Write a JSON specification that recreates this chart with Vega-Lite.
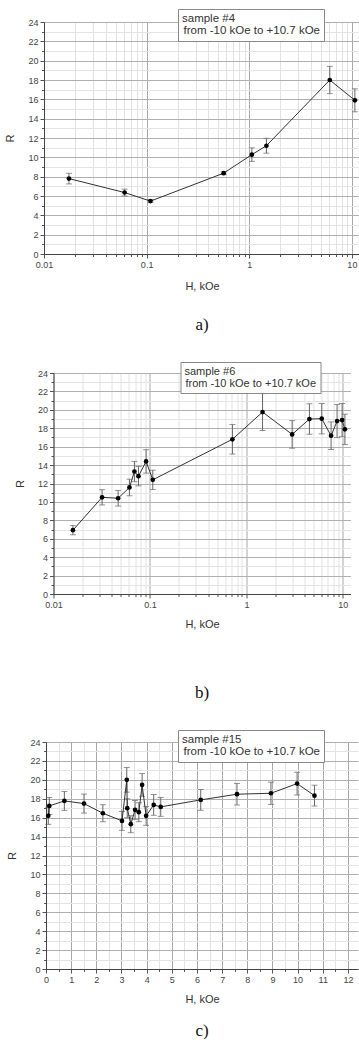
{
  "$schema": "https://vega.github.io/schema/vega-lite/v6.json",
  "padding": {"left": 4, "top": 8, "right": 0, "bottom": 0},
  "background": "white",
  "config": {
    "view": {"stroke": null},
    "font": "Liberation Sans",
    "axis": {
      "labelFont": "Liberation Sans", "labelFontSize": 9, "labelColor": "#444",
      "titleFont": "Liberation Sans", "titleFontSize": 11, "titleFontWeight": "normal", "titleColor": "#333",
      "domainColor": "#444", "tickColor": "#555", "labelFlush": false, "labelOverlap": false, "grid": true
    },
    "title": {"font": "Liberation Serif", "fontSize": 17, "fontWeight": "normal", "color": "#111", "orient": "bottom"},
    "legend": {
      "orient": "none", "strokeColor": "#888", "fillColor": "#fff", "padding": 4,
      "titleFont": "Liberation Sans", "titleFontSize": 11.5, "titleFontWeight": "normal", "titleColor": "#333",
      "labelFont": "Liberation Sans", "labelFontSize": 11.5, "labelColor": "#333",
      "symbolOpacity": 0, "symbolSize": 0, "symbolStrokeWidth": 0, "labelOffset": -10, "titlePadding": 1, "labelLimit": 400
    }
  },
  "datasets": {
    "a": [
      {"H": 0.0175, "R": 7.8, "err": 0.55},
      {"H": 0.061, "R": 6.36, "err": 0.35},
      {"H": 0.109, "R": 5.47, "err": 0.15},
      {"H": 0.563, "R": 8.36, "err": 0.15},
      {"H": 1.06, "R": 10.28, "err": 0.7},
      {"H": 1.47, "R": 11.2, "err": 0.77},
      {"H": 6.09, "R": 18.0, "err": 1.41},
      {"H": 10.7, "R": 15.9, "err": 1.19}
    ],
    "b": [
      {"H": 0.0159, "R": 6.93, "err": 0.5},
      {"H": 0.0319, "R": 10.5, "err": 0.83},
      {"H": 0.0468, "R": 10.4, "err": 0.85},
      {"H": 0.0613, "R": 11.57, "err": 0.9},
      {"H": 0.069, "R": 13.3, "err": 1.1},
      {"H": 0.076, "R": 12.8, "err": 1.05},
      {"H": 0.0912, "R": 14.4, "err": 1.27},
      {"H": 0.107, "R": 12.4, "err": 1.05},
      {"H": 0.716, "R": 16.8, "err": 1.6},
      {"H": 1.47, "R": 19.76, "err": 2.0},
      {"H": 2.98, "R": 17.33, "err": 1.5},
      {"H": 4.5, "R": 19.0, "err": 1.65},
      {"H": 6.04, "R": 19.04, "err": 1.65},
      {"H": 7.55, "R": 17.19, "err": 1.5},
      {"H": 8.71, "R": 18.78, "err": 1.8},
      {"H": 9.82, "R": 18.89, "err": 1.8},
      {"H": 10.5, "R": 17.88, "err": 1.65}
    ],
    "c": [
      {"H": 0.09, "R": 16.19, "err": 0.9},
      {"H": 0.13, "R": 17.24, "err": 0.9},
      {"H": 0.73, "R": 17.77, "err": 1.0},
      {"H": 1.51, "R": 17.49, "err": 1.0},
      {"H": 2.26, "R": 16.47, "err": 0.9},
      {"H": 3.02, "R": 15.66, "err": 1.0},
      {"H": 3.21, "R": 20.0, "err": 1.3},
      {"H": 3.23, "R": 17.0, "err": 1.0},
      {"H": 3.37, "R": 15.31, "err": 0.9},
      {"H": 3.54, "R": 16.82, "err": 1.0},
      {"H": 3.69, "R": 16.58, "err": 1.0},
      {"H": 3.82, "R": 19.46, "err": 1.2},
      {"H": 3.98, "R": 16.19, "err": 1.0},
      {"H": 4.28, "R": 17.35, "err": 1.1},
      {"H": 4.56, "R": 17.14, "err": 1.0},
      {"H": 6.15, "R": 17.88, "err": 1.1},
      {"H": 7.59, "R": 18.48, "err": 1.14},
      {"H": 8.94, "R": 18.58, "err": 1.18},
      {"H": 9.98, "R": 19.6, "err": 1.2},
      {"H": 10.67, "R": 18.33, "err": 1.1}
    ]
  },
  "align": {"row": "none", "column": "all"},
  "center": true,
  "spacing": 28,
  "resolve": {"scale": {"x": "independent", "y": "independent", "color": "independent"}, "legend": {"color": "independent"}},
  "vconcat": [
    {
      "width": 316, "height": 232,
      "title": {"text": "a)", "offset": 26},
      "data": {"name": "a"},
      "encoding": {
        "x": {"field": "H", "type": "quantitative", "title": "H, kOe",
          "scale": {"type": "log", "domain": [0.01, 12], "nice": false},
          "axis": {
            "values": [0.01,0.02,0.03,0.04,0.05,0.06,0.07,0.08,0.09,0.1,0.2,0.3,0.4,0.5,0.6,0.7,0.8,0.9,1,2,3,4,5,6,7,8,9,10],
            "labelExpr": "abs(log(datum.value)/LN10 - round(log(datum.value)/LN10)) < 0.001 ? format(datum.value, '~g') : ''",
            "gridColor": {"condition": {"test": "abs(log(datum.value)/LN10 - round(log(datum.value)/LN10)) < 0.001", "value": "#a8a8a8"}, "value": "#e2e2e2"},
            "tickSize": {"condition": {"test": "abs(log(datum.value)/LN10 - round(log(datum.value)/LN10)) < 0.001", "value": 4}, "value": 2.5},
            "titlePadding": 11
          }},
        "y": {"field": "R", "type": "quantitative", "title": "R",
          "scale": {"domain": [0, 24], "nice": false},
          "axis": {
            "values": [0,1,2,3,4,5,6,7,8,9,10,11,12,13,14,15,16,17,18,19,20,21,22,23,24],
            "labelExpr": "datum.value % 2 == 0 ? datum.label : ''",
            "gridColor": {"condition": {"test": "datum.value % 2 == 0", "value": "#b0b0b0"}, "value": "#e4e4e4"},
            "tickSize": {"condition": {"test": "datum.value % 2 == 0", "value": 4}, "value": 2.5},
            "titlePadding": 12
          }}
      },
      "layer": [
        {"mark": {"type": "errorbar", "color": "#666", "thickness": 1, "ticks": {"size": 6}}, "encoding": {"yError": {"field": "err"}}},
        {"mark": {"type": "line", "strokeWidth": 1},
          "encoding": {"color": {"datum": "from -10 kOe to +10.7 kOe", "type": "nominal", "scale": {"range": ["#333"]},
            "legend": {"title": "sample #4", "legendX": 134, "legendY": -13}}}},
        {"mark": {"type": "point", "filled": true, "color": "#000", "size": 22, "opacity": 1}}
      ]
    },
    {
      "width": 297, "height": 221,
      "title": {"text": "b)", "offset": 56},
      "data": {"name": "b"},
      "encoding": {
        "x": {"field": "H", "type": "quantitative", "title": "H, kOe",
          "scale": {"type": "log", "domain": [0.01, 12], "nice": false},
          "axis": {
            "values": [0.01,0.02,0.03,0.04,0.05,0.06,0.07,0.08,0.09,0.1,0.2,0.3,0.4,0.5,0.6,0.7,0.8,0.9,1,2,3,4,5,6,7,8,9,10],
            "labelExpr": "abs(log(datum.value)/LN10 - round(log(datum.value)/LN10)) < 0.001 ? format(datum.value, '~g') : ''",
            "gridColor": {"condition": {"test": "abs(log(datum.value)/LN10 - round(log(datum.value)/LN10)) < 0.001", "value": "#a8a8a8"}, "value": "#e2e2e2"},
            "tickSize": {"condition": {"test": "abs(log(datum.value)/LN10 - round(log(datum.value)/LN10)) < 0.001", "value": 4}, "value": 2.5},
            "titlePadding": 9
          }},
        "y": {"field": "R", "type": "quantitative", "title": "R",
          "scale": {"domain": [0, 24], "nice": false},
          "axis": {
            "values": [0,1,2,3,4,5,6,7,8,9,10,11,12,13,14,15,16,17,18,19,20,21,22,23,24],
            "labelExpr": "datum.value % 2 == 0 ? datum.label : ''",
            "gridColor": {"condition": {"test": "datum.value % 2 == 0", "value": "#b0b0b0"}, "value": "#e4e4e4"},
            "tickSize": {"condition": {"test": "datum.value % 2 == 0", "value": 4}, "value": 2.5},
            "titlePadding": 12
          }}
      },
      "layer": [
        {"mark": {"type": "errorbar", "color": "#666", "thickness": 1, "ticks": {"size": 6}}, "encoding": {"yError": {"field": "err"}}},
        {"mark": {"type": "line", "strokeWidth": 1},
          "encoding": {"color": {"datum": "from -10 kOe to +10.7 kOe", "type": "nominal", "scale": {"range": ["#333"]},
            "legend": {"title": "sample #6", "legendX": 127, "legendY": -11, "titleFontSize": 11, "labelFontSize": 11}}}},
        {"mark": {"type": "point", "filled": true, "color": "#000", "size": 22, "opacity": 1}}
      ]
    },
    {
      "width": 312, "height": 227,
      "title": {"text": "c)", "offset": 19},
      "data": {"name": "c"},
      "encoding": {
        "x": {"field": "H", "type": "quantitative", "title": "H, kOe",
          "scale": {"domain": [0, 12.4], "nice": false},
          "axis": {
            "values": [0,0.5,1,1.5,2,2.5,3,3.5,4,4.5,5,5.5,6,6.5,7,7.5,8,8.5,9,9.5,10,10.5,11,11.5,12],
            "labelExpr": "datum.value % 1 == 0 ? format(datum.value, 'd') : ''",
            "gridColor": {"condition": {"test": "datum.value % 1 == 0", "value": "#a8a8a8"}, "value": "#e2e2e2"},
            "tickSize": {"condition": {"test": "datum.value % 1 == 0", "value": 4}, "value": 2.5},
            "titlePadding": 9
          }},
        "y": {"field": "R", "type": "quantitative", "title": "R",
          "scale": {"domain": [0, 24], "nice": false},
          "axis": {
            "values": [0,1,2,3,4,5,6,7,8,9,10,11,12,13,14,15,16,17,18,19,20,21,22,23,24],
            "labelExpr": "datum.value % 2 == 0 ? datum.label : ''",
            "gridColor": {"condition": {"test": "datum.value % 2 == 0", "value": "#b0b0b0"}, "value": "#e4e4e4"},
            "tickSize": {"condition": {"test": "datum.value % 2 == 0", "value": 4}, "value": 2.5},
            "titlePadding": 12
          }}
      },
      "layer": [
        {"mark": {"type": "errorbar", "color": "#666", "thickness": 1, "ticks": {"size": 6}}, "encoding": {"yError": {"field": "err"}}},
        {"mark": {"type": "line", "strokeWidth": 1},
          "encoding": {"color": {"datum": "from -10 kOe to +10.7 kOe", "type": "nominal", "scale": {"range": ["#333"]},
            "legend": {"title": "sample #15", "legendX": 132, "legendY": -12}}}},
        {"mark": {"type": "point", "filled": true, "color": "#000", "size": 22, "opacity": 1}}
      ]
    }
  ]
}
